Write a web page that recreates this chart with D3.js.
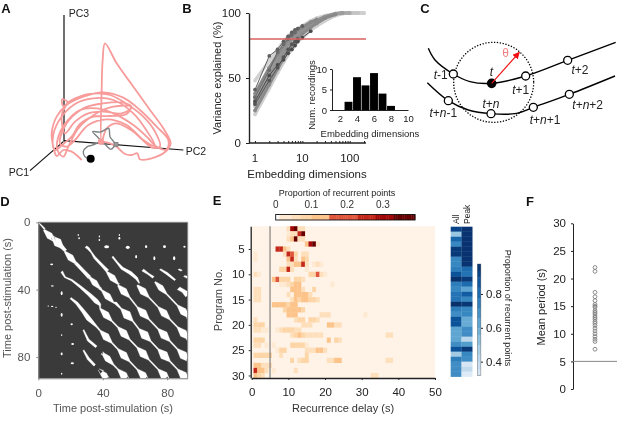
<!DOCTYPE html>
<html><head><meta charset="utf-8">
<script src="https://cdn.jsdelivr.net/npm/d3@7"></script>
<style>
html,body{margin:0;padding:0;background:#fff}
svg{filter:blur(.3px)}
text{font-family:"Liberation Sans",Arial,sans-serif;fill:#222}
</style></head><body><svg id="c" width="617" height="424"></svg>
<script>
// ---------- Panel A (projected trajectory units) ----------
const pcAxes = [
  {name:"PC3", from:[192,45], to:[192,425]},
  {name:"PC2", from:[192,422], to:[550,450]},
  {name:"PC1", from:[190,425], to:[90,512]}
];
const pinkTrajectory = [[245,480],[215,455],[190,450],[170,468],[160,440],[155,400],[170,350],[200,315],[250,290],[310,277],[370,293],[420,330],[470,380],[505,420],[500,448],[470,440],[440,410],[400,375],[340,340],[290,325],[240,330],[200,365],[175,410],[172,450],[190,470],[205,440],[235,385],[290,340],[340,320],[392,320],[380,342],[330,348],[280,350],[240,372],[215,410],[190,432],[165,450],[158,420],[175,365],[225,312],[280,295],[340,300],[400,340],[440,392],[465,438],[430,420],[380,375],[320,358],[265,375],[225,420],[200,440],[180,430],[200,370],[250,325],[310,310],[370,308],[395,322],[365,340],[310,335],[265,340],[225,365],[195,400],[185,345],[195,322],[202,305],[186,298],[190,318],[215,300],[270,282],[330,285],[385,315],[430,350],[465,395],[480,440],[455,442],[400,395],[350,370],[320,385],[305,425],[305,270],[308,180],[315,130],[350,190],[400,260],[450,330],[490,385],[512,430],[500,452],[470,470],[420,478],[412,460],[395,465],[375,462],[350,440],[330,430],[305,425]];
const grayTrajectory = [[272,476],[255,470],[250,455],[262,440],[275,436],[290,430],[305,425],[322,440],[332,448],[345,433],[330,410],[326,385],[302,396],[278,395],[292,410],[305,425]];
const startPoint = [272,476], pinkPoint = [303,425], graySquare = [348,433];

// ---------- Panel B ----------
const embeddingDims = [1,2,3,4,5,6,7,8,10,15,20,30,50,70,100,150,200];
const varianceSeries = [
 {g:"#d2d2d2", w:3.4, v:[48,63,72,78,82,85,87,88,90,94,96,98,99.5,100,100,100,100]},
 {g:"#cfcfcf", w:3.4, v:[22,42,54,62,68,72,75,78,81,87,90,94,98,99.5,100,100,100]},
 {g:"#c4c4c4", w:3.4, v:[28,48,60,68,74,78,81,83,86,90,93,96,99,100,100,100]},
 {g:"#a8a8a8", w:3.4, v:[33,55,66,73,78,82,84,86,88,92,94,97,99.5,100,100]},
 {g:"#9c9c9c", w:3.4, v:[36,53,64,71,76,80,83,85,87,91,94,97,99.5,100]},
 {g:"#929292", w:3.4, v:[30,50,62,70,76,80,82,84,87,91,94,97,99]},
 {g:"#8a8a8a", w:3, v:[25,45,57,65,71,75,78,81,84,89,92,96,99]},
 {g:"#888888", w:3, v:[38,58,68,75,80,83,85,87,89,93,95]},
 {g:"#5f5f5f", w:1, v:[41,67,72,78,82,85,87,88,90]},
 {g:"#4b4b4b", w:1, v:[32,52,60,64,69,72,75,78,81,86]},
 {g:"#6a6a6a", w:1, v:[35,56,70,76,80,83,85]},
 {g:"#555555", w:1, v:[30,48,58,66,72,76,78,80]}
];
const histDims = [3,4,5,6,7,8];
const histCounts = [2,8,6,9,4,1];

// ---------- Panel C (schematic units) ----------
const upperCurve = [[55,145],[75,180],[130,222],[180,245],[245,250],[347,228],[473,181],[617,127]];
const lowerCurve = [[52,248],[115,302],[175,330],[243,341],[320,340],[370,322],[478,283],[615,228]];
const openNodes = [[130,222],[347,228],[473,181],[115,302],[243,341],[370,322],[478,283]];
const nodeLabels = [
 {t:"t-1",x:92,y:226},{t:"t",x:244,y:215},{t:"t+1",x:332,y:270},{t:"t+2",x:510,y:209},
 {t:"t+n",x:243,y:311},{t:"t+n-1",x:100,y:338},{t:"t+n+1",x:405,y:360},{t:"t+n+2",x:533,y:314}
];

// ---------- Panel D (seconds) ----------
const bands = [
 [[0,0,.2],[4,4,.5],[7,8,2],[9,9,1.2],[12,12,2.6],[14,14,1.2],[17,17,.9],[20,21,2],[23,24,.9],[28,29,1],[32,33,1.1],[35,36,1.8],[38,39,.9],[43,44,2],[48,48,.8],[55,55,2.6],[66,67,2.6],[78,79,2.6],[90,91,2.4],[92.7,92.7,.8]],
 [[29.5,14.5,.7],[31,15.5,.7],[33,18,.4],[35,21,.7],[39,25,.8],[43,29,1],[46,33,1.9],[50,37,.7],[53,41,2.2],[65,54,2.4],[78,67,2.5],[90,79,2.5],[92.7,81,1.4]],
 [[46,20.4,.5],[49,24,.5],[52,27.3,.8],[57,30,1],[61,33.3,.8],[62.7,36.2,.3]],
 [[65,41,2.2],[78,54,2.2],[90,66,2.4],[92.7,69,1.4]],
 [[64.8,28.3,.8],[68.3,30.7,.5],[71.4,32.7,.7]],
 [[76,39,1.8],[90,53,2.2],[92.7,56,1.4]],
 [[75.6,27.9,.5],[79.7,30.3,.7],[84.9,34.3,.5]],
 [[87,39.2,1.1],[90,40.8,1.1],[92.7,43.2,1.7]],
 [[87,27.9,.4],[89,28.7,.5]],
 [[90.5,31.9,.5],[92.7,32.7,.8]],
 [[14.5,29.3,.7],[16.6,32.7,.4],[20.7,34.3,.5],[25.9,38.2,.7],[32,43.2,1],[36,47,1.4],[38.3,49,.7],[42,55,2.1],[53,66,2.3],[65,78,2.4],[78,91,2.4],[79,92.7,1.4]],
 [[20,45,.5],[23.8,48,.8],[28,53,1.1],[31,57,1.4],[36.2,62,.5],[42,68,2.2],[53,79,2.3],[65,91,2.2],[66.5,92.7,1.4]],
 [[28,64,.4],[31,70,.7],[36,74,.7]],
 [[40,78,1.1],[43,81,1.9],[53,91,2.3],[54.5,92.7,1.4]],
 [[28,76,.4],[31,81,.8],[35,85,.7]],
 [[39.5,89,1.4],[41,91,1.9],[42.5,92.7,1.4]]
];
const spots = [[42.4,14.5,1.5,.9],[55.5,14.9,1.2,.9],[66.9,14.5,.7,.8],[78.3,14.5,.9,.8],[90.7,14.5,.7,.6],[60.7,20.4,.6,.9],[72,21.4,.6,1.2],[84.3,21.4,.7,1.2],[24.8,7.5,.4,.6],[25.3,9.5,.5,.6],[37.9,8.5,.4,.6],[37.9,10.5,.5,.6],[50.3,7.5,.4,.6],[50.3,9.5,.6,.7],[8.3,25,.9,.5],[8.7,37.8,.9,.4],[6.2,49.7,.5,.3],[8.6,50,.7,.4],[11,50.5,.5,.3],[14.5,42.2,.6,1.2],[14.5,55,.6,1.1],[20.7,60.6,.7,.6],[14.5,67,.4,.5],[21.3,72.3,.9,.6],[14.5,78.2,.6,.8],[21.1,83.8,1,.6],[14.5,90,.4,.6]];

// ---------- Panel E ----------
const delays = d3.range(1,51);
const programs = d3.range(1,31);
const heatRows = [
 [[10,.05],[11,.3],[12,.36],[13,.05],[14,.05]],
 [[10,.04],[11,.05],[12,.05],[13,.24],[14,.36]],
 [[10,.06],[11,.13],[12,.36],[13,.05],[14,.05]],
 [[15,.11],[16,.3],[17,.36],[18,.04]],
 [[7,.26],[8,.26],[9,.12],[10,.05]],
 [[1,.04],[9,.05],[10,.24],[11,.18],[12,.09],[14,.05],[15,.05]],
 [[1,.04],[10,.1],[11,.24],[12,.06],[14,.1],[15,.09]],
 [[10,.05],[11,.06],[12,.1],[13,.1],[14,.24],[15,.05],[17,.04],[18,.06],[19,.04]],
 [[8,.09],[9,.09],[10,.24],[11,.05],[15,.04]],
 [[1,.06],[2,.04],[16,.09],[17,.09],[18,.22],[19,.05],[20,.04]],
 [[6,.1],[7,.22],[8,.09],[9,.09],[10,.08],[12,.09],[13,.09],[14,.05]],
 [[8,.04],[9,.04],[10,.05],[11,.09],[12,.12],[13,.12],[22,.04]],
 [[1,.05],[2,.05],[11,.13],[12,.13],[13,.13],[14,.06],[17,.09]],
 [[1,.05],[2,.05],[10,.05],[12,.12],[13,.1],[14,.13],[15,.13],[16,.06]],
 [[1,.05],[2,.05],[11,.06],[12,.13],[13,.09],[14,.13],[15,.13],[16,.09],[17,.09],[18,.05]],
 [[6,.12],[7,.12],[8,.12],[9,.12],[10,.09],[11,.13],[12,.13]],
 [[9,.09],[10,.1],[11,.12],[12,.12],[13,.12],[14,.08]],
 [[10,.1],[11,.1],[12,.1],[19,.05],[20,.06],[21,.06],[31,.04]],
 [[1,.05],[12,.06],[13,.09],[14,.09],[16,.09],[17,.09],[18,.06]],
 [[1,.08],[2,.09],[3,.09],[14,.05],[15,.05],[16,.05],[21,.12],[22,.12],[23,.06],[24,.05]],
 [[1,.05],[2,.05],[3,.04],[4,.04],[7,.04],[8,.05],[9,.09],[10,.09],[11,.09],[12,.05],[13,.05]],
 [[11,.06],[12,.09],[13,.1],[14,.09],[15,.05],[16,.05],[17,.05],[18,.05],[19,.05],[37,.05],[38,.05]],
 [[1,.09],[2,.09],[3,.09],[21,.1],[23,.09],[24,.05]],
 [[1,.05],[2,.05],[4,.04],[6,.04],[11,.09],[12,.09],[13,.09],[14,.08],[15,.04]],
 [[7,.04],[8,.09],[9,.09],[15,.05],[16,.05],[17,.05],[18,.11],[19,.11],[20,.05]],
 [[1,.09],[2,.09],[3,.09],[4,.09],[5,.08],[8,.05],[15,.07]],
 [[11,.09],[13,.05],[14,.09],[15,.09],[21,.06],[22,.06],[23,.1],[24,.1],[37,.06],[38,.06]],
 [[1,.13],[2,.13],[3,.06],[4,.06],[5,.05]],
 [[1,.24],[2,.13],[3,.11],[4,.05],[6,.04],[12,.05]],
 [[1,.13],[2,.09],[3,.06],[33,.05],[34,.05]]
];
const allProportion = [.92,.5,.82,.72,.95,.95,.72,.72,.75,.88,.98,.75,.72,.78,.78,.98,.75,.7,.88,.88,.62,.62,.62,.7,.88,.48,.75,.7,.7,.7];
const peakProportion = [.97,.97,.97,.97,.97,.97,.97,.97,.8,.78,.95,.8,.62,.85,.72,.96,.72,.72,.6,.6,.7,.7,.42,.65,.95,.72,.7,.33,.4,.3];

// ---------- Panel F ----------
const meanPeriods = [22,21.3,17.5,16.7,16,15.3,15,14.8,14.2,13.9,13.6,13.2,12.9,12.6,12.2,11.9,11.5,11,10.5,10,9.5,9,8.6,7.2];

// ---------- Drawing ----------
const svg = d3.select("#c");
function label(t,x,y,o={}){
  const e = svg.append("text").text(t).attr("x",x).attr("y",y)
    .attr("font-size",o.size||11).attr("text-anchor",o.anchor||"middle").attr("dominant-baseline","central");
  if(o.fill) e.style("fill",o.fill);
  if(o.weight) e.attr("font-weight",o.weight);
  if(o.rotate!==undefined) e.attr("transform",`rotate(${o.rotate} ${x} ${y})`);
  return e;
}
function styleAxis(g,o={}){
  g.select(".domain").attr("stroke",o.color||"#222").attr("stroke-width",o.sw||1);
  g.selectAll(".tick line").attr("stroke",o.color||"#222");
  g.selectAll("text").attr("font-size",o.size||11).style("fill",o.tcolor||"#222")
   .style("font-family",'"Liberation Sans",Arial,sans-serif');
  return g;
}
[["A",6,8],["B",187,8],["C",425,8],["D",5,201],["E",217,200],["F",530,201]].forEach(d=>
  label(d[0],d[1],d[2],{size:13,weight:"bold",fill:"#111"}));

// A
const ax = d3.scaleLinear().domain([0,630]).range([0,210]);
const ay = d3.scaleLinear().domain([0,570]).range([0,190]);
const aLine = d3.line().x(d=>ax(d[0])).y(d=>ay(d[1]));
pcAxes.forEach(a=>svg.append("path").attr("d",aLine([a.from,a.to])).attr("stroke","#111").attr("stroke-width",1.2).attr("fill","none"));
svg.append("path").attr("d",aLine.curve(d3.curveCatmullRom.alpha(.5))(pinkTrajectory)).attr("fill","none").attr("stroke","#f79b9b").attr("stroke-width",1.8).attr("stroke-linejoin","round");
svg.append("path").attr("d",aLine.curve(d3.curveCatmullRom.alpha(.5))(grayTrajectory)).attr("fill","none").attr("stroke","#7d8484").attr("stroke-width",1.4);
svg.append("rect").attr("x",ax(graySquare[0])-2).attr("y",ay(graySquare[1])-2).attr("width",4).attr("height",4).attr("fill","#999").attr("stroke","#777").attr("stroke-width",.7);
svg.append("circle").attr("cx",ax(pinkPoint[0])).attr("cy",ay(pinkPoint[1])).attr("r",3.2).attr("fill","#f79b9b");
svg.append("circle").attr("cx",ax(startPoint[0])).attr("cy",ay(startPoint[1])).attr("r",4).attr("fill","#000");
label("PC3",79,13,{size:10.5});label("PC2",196,151,{size:10.5});label("PC1",19,172,{size:10.5});

// B
const bx = d3.scaleLog().domain([1,200]).range([255,364]);
const by = d3.scaleLinear().domain([0,100]).range([143,13]);
const bLine = d3.line().x((d,i)=>bx(embeddingDims[i])).y(d=>by(d));
varianceSeries.forEach(s=>{
  svg.append("path").attr("d",bLine(s.v)).attr("fill","none").attr("stroke",s.g).attr("stroke-width",s.w);
  svg.selectAll(null).data(s.v).enter().append("circle").attr("cx",(d,i)=>bx(embeddingDims[i])).attr("cy",d=>by(d)).attr("r",1.9).attr("fill",s.g);
});
svg.append("line").attr("x1",249).attr("x2",366).attr("y1",by(80)).attr("y2",by(80)).attr("stroke","#d9615f").attr("stroke-width",1.3);
styleAxis(svg.append("g").attr("transform","translate(249,0)").call(d3.axisLeft(by).tickValues([0,50,100]).tickSize(3).tickSizeOuter(0)).call(g=>g.selectAll("text").attr("dx",-2)),{size:11.5,sw:1.4});
const bMinor = [1,2,3,4,5,6,7,8,9,10,20,30,40,50,60,70,80,90,100,200];
const bAxis = d3.axisTop(bx).tickValues(bMinor).tickSize(2).tickFormat("").tickSizeOuter(0);
styleAxis(svg.append("g").attr("transform","translate(0,143)").call(bAxis),{sw:1.4}).select(".domain").attr("d","M249,0H366");
[1,10,100].forEach(v=>label(v,bx(v),158,{size:11.5}));
label("Variance explained (%)",217,78,{size:11,rotate:-90});
label("Embedding dimensions",307,174,{size:11.5});
// inset
const hx = d3.scaleLinear().domain([1,10]).range([331.5,408]);
const hy = d3.scaleLinear().domain([0,10]).range([110,69]);
svg.selectAll(null).data(histDims).enter().append("rect")
 .attr("x",d=>hx(d-.5)+.3).attr("width",hx(2)-hx(1)-.6)
 .attr("y",(d,i)=>hy(histCounts[i])).attr("height",(d,i)=>hy(0)-hy(histCounts[i])).attr("fill","#000");
styleAxis(svg.append("g").attr("transform","translate(332,0)").call(d3.axisLeft(hy).tickValues([0,5,10]).tickSize(2).tickSizeOuter(0)),{size:9.5});
styleAxis(svg.append("g").attr("transform","translate(0,110)").call(d3.axisBottom(hx).tickValues([2,4,6,8,10]).tickSize(0).tickPadding(5).tickSizeOuter(0)),{size:9.5});
label("Num. recordings",311,95,{size:9.5,rotate:-90});
label("Embedding dimensions",370,133,{size:9.5});

// C
const cx = d3.scaleLinear().domain([0,207*3]).range([410,617]);
const cy = d3.scaleLinear().domain([0,450]).range([0,150]);
const cLine = d3.line().x(d=>cx(d[0])).y(d=>cy(d[1])).curve(d3.curveCatmullRom.alpha(.5));
[upperCurve,lowerCurve].forEach(c=>svg.append("path").attr("d",cLine(c)).attr("fill","none").attr("stroke","#000").attr("stroke-width",1.4));
svg.append("circle").attr("cx",cx(251)).attr("cy",cy(247)).attr("r",40).attr("fill","none").attr("stroke","#000").attr("stroke-width",1.3).attr("stroke-dasharray","1.3 1.6");
svg.selectAll(null).data(openNodes).enter().append("circle").attr("cx",d=>cx(d[0])).attr("cy",d=>cy(d[1])).attr("r",4).attr("fill","#fff").attr("stroke","#000").attr("stroke-width",1.3);
svg.append("circle").attr("cx",cx(245)).attr("cy",cy(250)).attr("r",4.8).attr("fill","#000");
svg.append("defs").append("marker").attr("id","arr").attr("viewBox","0 0 10 10").attr("refX",9).attr("refY",5).attr("markerWidth",6).attr("markerHeight",6).attr("orient","auto").append("path").attr("d","M0,0L10,5L0,10Z").attr("fill","#e11");
svg.append("line").attr("x1",cx(245)).attr("y1",cy(250)).attr("x2",cx(328)).attr("y2",cy(157)).attr("stroke","#e11").attr("stroke-width",1.2).attr("marker-end","url(#arr)");
label("θ",cx(287),cy(160),{size:12,fill:"#f08080"});
nodeLabels.forEach(n=>{
  const e = label("",cx(n.x),cy(n.y),{size:12});
  n.t.split(/(t|n)/).filter(Boolean).forEach(p=>e.append("tspan").text(p).attr("font-style",(p==="t"||p==="n")?"italic":"normal"));
});

// D
const dx = d3.scaleLinear().domain([0,92.7]).range([38.3,187.7]);
const dy = d3.scaleLinear().domain([0,92.7]).range([222.3,378.3]);
svg.append("rect").attr("x",dx(0)).attr("y",dy(0)).attr("width",dx(92.7)-dx(0)).attr("height",dy(92.7)-dy(0)).attr("fill","#3a3a3a");
svg.append("clipPath").attr("id","dclip").append("rect").attr("x",dx(0)).attr("y",dy(0)).attr("width",dx(92.7)-dx(0)).attr("height",dy(92.7)-dy(0));
const bandLine = d3.line().x(d=>dx(d[0])).y(d=>dy(d[1]));
const widthScale = .72;
bands.forEach(b=>{
  // a wide node is a short diamond: it narrows again within a few seconds along the diagonal
  const nodes = [];
  b.forEach(p=>{
    if(p[2]>=1.8){ nodes.push([p[0]-3.6,p[1]-3.6,.4]); nodes.push(p); nodes.push([p[0]+3.6,p[1]+3.6,.4]); }
    else nodes.push(p);
  });
  const up = nodes.map(p=>[p[0]+p[2]*widthScale,p[1]-p[2]*widthScale]);
  const dn = nodes.map(p=>[p[0]-p[2]*widthScale,p[1]+p[2]*widthScale]).reverse();
  svg.append("path").attr("d",bandLine(up.concat(dn))+"Z").attr("fill","#fff").attr("stroke","#fff").attr("stroke-width",.3).attr("clip-path","url(#dclip)");
});
svg.selectAll(null).data(spots).enter().append("ellipse").attr("cx",d=>dx(d[0])).attr("cy",d=>dy(d[1]))
 .attr("rx",d=>dx(d[2])-dx(0)).attr("ry",d=>dy(d[3])-dy(0)).attr("fill","#fff");
const dGray = "#555";
styleAxis(svg.append("g").attr("transform",`translate(${dx(0)},0)`).call(d3.axisLeft(dy).tickValues([0,40,80]).tickSize(2).tickSizeOuter(0)),{color:"#888",size:11.5,tcolor:dGray}).selectAll("text").attr("dx",-3);
styleAxis(svg.append("g").attr("transform",`translate(0,${dy(92.7)})`).call(d3.axisBottom(dx).tickValues([0,40,80]).tickSize(2).tickSizeOuter(0)),{color:"#888",size:11.5,tcolor:dGray}).selectAll("text").attr("dy","1.2em");
svg.append("line").attr("x1",dx(0)).attr("x2",dx(92.7)).attr("y1",dy(0)).attr("y2",dy(0)).attr("stroke","#888");
svg.append("line").attr("x1",dx(92.7)).attr("x2",dx(92.7)).attr("y1",dy(0)).attr("y2",dy(92.7)).attr("stroke","#888");
label("Time post-stimulation (s)",7,298,{size:11,rotate:-90,fill:dGray});
label("Time post-stimulation (s)",113,408,{size:11,fill:dGray});

// E
const ex = d3.scaleLinear().domain([0,50]).range([251.7,435]);
const ey = d3.scaleLinear().domain([.5,30.5]).range([226.2,378]);
const heatColor = d3.scaleThreshold().domain([.035,.045,.07,.1,.15,.23,.28,.33])
  .range(["#fef3e6","#fee9d2","#fedfbc","#fdd5a6","#fcc38a","#e0563c","#c4281a","#a30808","#660000"]);
svg.append("rect").attr("x",ex(0)).attr("y",ey(.5)).attr("width",ex(50)-ex(0)).attr("height",ey(30.5)-ey(.5)).attr("fill","#fef3e6");
heatRows.forEach((cells,i)=>cells.forEach(c=>{
  svg.append("rect").attr("x",ex(c[0]-.5)).attr("y",ey(programs[i]-.5)).attr("width",ex(1)-ex(0)+.2).attr("height",ey(1.5)-ey(.5)+.2).attr("fill",heatColor(c[1]));
}));
svg.append("line").attr("x1",ex(5)).attr("x2",ex(5)).attr("y1",ey(.5)).attr("y2",ey(30.5)).attr("stroke","#777").attr("stroke-width",1.1);
styleAxis(svg.append("g").attr("transform",`translate(${ex(0)-1},0)`).call(d3.axisLeft(ey).tickValues([5,10,15,20,25,30]).tickSize(2).tickSizeOuter(0)),{size:11.5,sw:1.3}).selectAll("text").attr("dx",-1);
styleAxis(svg.append("g").attr("transform",`translate(0,${ey(30.5)})`).call(d3.axisBottom(ex).tickValues(d3.range(0,51,10)).tickSize(2).tickSizeOuter(0)),{size:11.5,sw:1.3}).selectAll("text").attr("dy","1.1em");
label("Program No.",218,300,{size:11,rotate:-90,fill:"#444"});
label("Recurrence delay (s)",343,408,{size:11,fill:"#333"});
// E colour bar
const cbx = d3.scaleLinear().domain([0,.39]).range([275.7,415]);
const barStops = d3.range(0,.39,.005);
svg.selectAll(null).data(barStops).enter().append("rect").attr("x",d=>cbx(d)).attr("y",214.5).attr("width",cbx(.006)-cbx(0)).attr("height",5.5)
 .attr("fill",d=>d<.01?"#fff":heatColor(Math.max(d,.036)));
svg.append("rect").attr("x",cbx(0)).attr("y",214.5).attr("width",cbx(.39)-cbx(0)).attr("height",5.5).attr("fill","none").attr("stroke","#111").attr("stroke-width",.9);
[0,.1,.2,.3].forEach(v=>label(v===0?"0":v,cbx(v),204,{size:10,fill:"#333"}));
label("Proportion of recurrent points",337,193,{size:9});

// Side heatmap
const sideBlue = d3.scaleSequential(t=>d3.interpolateBlues(t)).domain([.2,.98]);
const sx = d3.scaleBand().domain(["All","Peak"]).range([450.7,472.3]);
const sy = d3.scaleBand().domain(programs).range([226.7,376.7]);
[["All",allProportion],["Peak",peakProportion]].forEach(([n,vals])=>{
  svg.selectAll(null).data(vals).enter().append("rect").attr("x",sx(n)).attr("width",sx.bandwidth()+.2)
   .attr("y",(d,i)=>sy(programs[i])).attr("height",sy.bandwidth()+.2).attr("fill",d=>sideBlue(d));
  label(n,sx(n)+sx.bandwidth()/2,224,{size:8.5,rotate:-90,anchor:"start"});
});
const sb = d3.scaleLinear().domain([.32,.98]).range([375.7,264]);
const sbLevels = [.32,.36,.4,.44,.5,.56,.6,.66,.72,.78,.84,.9,.94];
const sbNext = [.36,.4,.44,.5,.56,.6,.66,.72,.78,.84,.9,.94,.98];
svg.selectAll(null).data(sbLevels).enter().append("rect").attr("x",477.3).attr("width",3.6)
 .attr("y",(d,i)=>sb(sbNext[i])).attr("height",(d,i)=>sb(d)-sb(sbNext[i])+.2).attr("fill",d=>sideBlue(d+.02));
svg.append("rect").attr("x",477.3).attr("width",3.6).attr("y",sb(.98)).attr("height",sb(.32)-sb(.98)).attr("fill","none").attr("stroke","#555").attr("stroke-width",.4);
[.4,.6,.8].forEach(v=>{label(v,486,sb(v),{size:11.5,anchor:"start"});
  svg.append("line").attr("x1",481).attr("x2",483).attr("y1",sb(v)).attr("y2",sb(v)).attr("stroke","#222");});
label("Proportion of recurrent points",508,308,{size:9,rotate:90});

// F
const fy = d3.scaleLinear().domain([0,30]).range([389,223.3]);
styleAxis(svg.append("g").attr("transform","translate(573,0)").call(d3.axisLeft(fy).tickValues(d3.range(0,31,5)).tickSize(2).tickSizeOuter(0)),{size:11.5}).selectAll("text").attr("dx",-2);
svg.append("line").attr("x1",573).attr("x2",617).attr("y1",fy(5)).attr("y2",fy(5)).attr("stroke","#888").attr("stroke-width",1);
svg.selectAll(null).data(meanPeriods).enter().append("circle").attr("cx",595).attr("cy",d=>fy(d)).attr("r",1.9).attr("fill","none").attr("stroke","#808080").attr("stroke-width",.9);
label("Mean period (s)",541,307,{size:11,rotate:-90});
</script></body></html>
